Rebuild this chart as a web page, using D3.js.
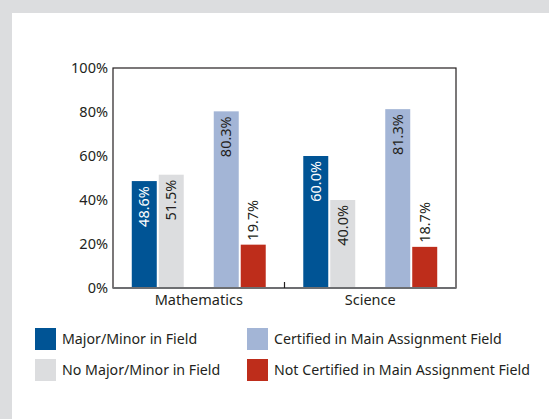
<!DOCTYPE html>
<html>
<head>
<meta charset="utf-8">
<script src="https://cdn.jsdelivr.net/npm/d3@7"></script>
<style>
  body { margin: 0; background: #fff; }
  text { font-family: "Noto Sans", sans-serif; fill: #231f20; }
</style>
</head>
<body>
<script>
var canvasWidth = 549;
var canvasHeight = 419;

// data
var categories = ["Mathematics", "Science"];
var pairs = ["field", "cert"];
var majorMinor = [48.6, 60.0];
var noMajorMinor = [51.5, 40.0];
var certified = [80.3, 81.3];
var notCertified = [19.7, 18.7];
var yTicks = [0, 20, 40, 60, 80, 100];
var legendLabels = ["Major/Minor in Field", "No Major/Minor in Field",
                    "Certified in Main Assignment Field", "Not Certified in Main Assignment Field"];

var colors = ["#005495", "#dcdddf", "#a3b5d6", "#be2d1b"];

var series = [
    { name: legendLabels[0], pair: "field", idx: 0, values: majorMinor, color: colors[0], text: "#fff" },
    { name: legendLabels[1], pair: "field", idx: 1, values: noMajorMinor, color: colors[1], text: "#231f20" },
    { name: legendLabels[2], pair: "cert", idx: 0, values: certified, color: colors[2], text: "#231f20" },
    { name: legendLabels[3], pair: "cert", idx: 1, values: notCertified, color: colors[3], text: "#231f20" }
];

var margin = { top: 68, left: 113, right: 93, bottom: 131 };
var width = canvasWidth - margin.left - margin.right;
var height = canvasHeight - margin.top - margin.bottom;

var svg = d3.select("body").append("svg")
    .attr("width", canvasWidth)
    .attr("height", canvasHeight);

// grey frame round the white panel
svg.append("rect").attr("width", canvasWidth).attr("height", canvasHeight).attr("fill", "#dcdddf");
svg.append("rect").attr("x", 12).attr("y", 13)
    .attr("width", canvasWidth - 12).attr("height", canvasHeight - 13).attr("fill", "#fff");

var g = svg.append("g")
    .attr("transform", "translate(" + margin.left + "," + margin.top + ")");

var xScale = d3.scaleBand().domain(categories).range([0, width]);
var xPair = d3.scaleBand().domain(pairs).range([0, xScale.bandwidth()])
    .paddingInner(0.366).paddingOuter(0.229);
var xBar = d3.scaleBand().domain([0, 1]).range([0, xPair.bandwidth()]).paddingInner(0.074);
var yScale = d3.scaleLinear().domain([0, 100]).range([height, 0]);

// y axis labels
var yAxis = g.append("g")
    .call(d3.axisLeft(yScale).tickValues(yTicks).tickSize(0).tickPadding(5).tickFormat(d => d + "%"));
yAxis.select(".domain").remove();
yAxis.selectAll("text").style("font-size", "14.5px").style("font-family", "Noto Sans, sans-serif").attr("fill", "#231f20");

// x axis labels
var xAxis = g.append("g")
    .attr("transform", "translate(0," + height + ")")
    .call(d3.axisBottom(xScale).tickSize(0).tickPadding(7));
xAxis.select(".domain").remove();
xAxis.selectAll("text").style("font-size", "14.5px").style("font-family", "Noto Sans, sans-serif").attr("fill", "#231f20");

// bars
series.forEach(function(s) {
    var bars = g.append("g").selectAll("g")
        .data(categories.map((c, i) => ({ cat: c, value: s.values[i] })))
        .join("g");

    bars.append("rect")
        .attr("x", d => xScale(d.cat) + xPair(s.pair) + xBar(s.idx))
        .attr("y", d => yScale(d.value))
        .attr("width", xBar.bandwidth())
        .attr("height", d => height - yScale(d.value))
        .attr("fill", s.color);

    bars.append("text")
        .attr("transform", function(d) {
            var cx = xScale(d.cat) + xPair(s.pair) + xBar(s.idx) + xBar.bandwidth() / 2;
            return "translate(" + cx + "," + yScale(d.value) + ") rotate(-90)";
        })
        .attr("x", d => (height - yScale(d.value)) > 55 ? -5 : 4)
        .attr("dy", "0.35em")
        .attr("text-anchor", d => (height - yScale(d.value)) > 55 ? "end" : "start")
        .style("font-size", "14.5px")
        .style("fill", d => (height - yScale(d.value)) > 55 ? s.text : "#231f20")
        .text(d => d.value.toFixed(1) + "%");
});

// plot frame
g.append("rect")
    .attr("width", width).attr("height", height)
    .attr("fill", "none").attr("stroke", "#231f20").attr("stroke-width", 1.2);
g.append("line")
    .attr("x1", 0).attr("x2", width)
    .attr("y1", height).attr("y2", height)
    .attr("stroke", "#6d6e71").attr("stroke-width", 2);

// tick between categories
g.append("line")
    .attr("x1", xScale(categories[1])).attr("x2", xScale(categories[1]))
    .attr("y1", height).attr("y2", height - 6)
    .attr("stroke", "#231f20").attr("stroke-width", 1.2);

// legend
var legend = svg.append("g");
var legendX = [35, 247];
var legendY = [328, 359];
series.forEach(function(s, i) {
    var col = Math.floor(i / 2), row = i % 2;
    var item = legend.append("g")
        .attr("transform", "translate(" + legendX[col] + "," + legendY[row] + ")");
    item.append("rect").attr("width", 21).attr("height", 22).attr("fill", s.color);
    item.append("text")
        .attr("x", 27).attr("y", 11).attr("dy", "0.35em")
        .style("font-size", "14.2px")
        .text(s.name);
});
</script>
</body>
</html>
